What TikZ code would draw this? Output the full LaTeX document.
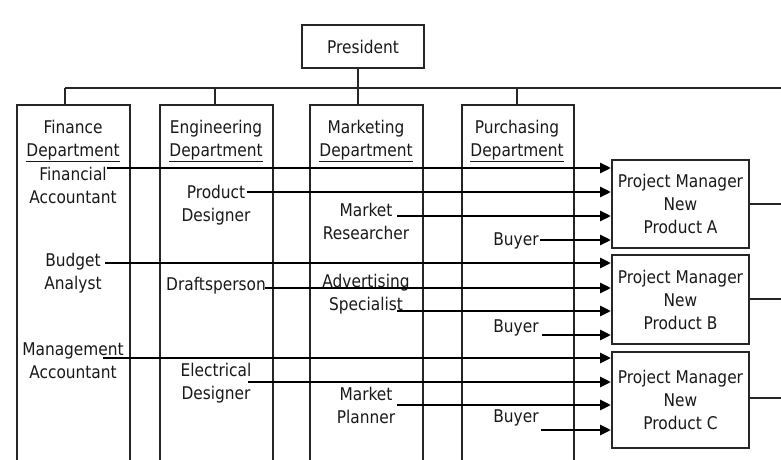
\documentclass[tikz,border=0pt]{standalone}
\usepackage{fontspec}
\setmainfont{DejaVu Sans}[FakeStretch=0.88]
\usetikzlibrary{arrows.meta}
\begin{document}
\begin{tikzpicture}[x=1pt,y=-1pt,
  box/.style={draw=black!85, line width=2pt, inner sep=0pt},
  txt/.style={align=center, font=\fontsize{17.5}{23}\selectfont, inner sep=0pt, text=black!90},
  link/.style={draw=black!85, line width=2pt},
  arr/.style={line width=2.8pt, -{Triangle[length=11pt,width=10pt]}}]
\useasboundingbox[fill=white] (0,0) rectangle (781,460);

% President
\node[box, minimum width=122pt, minimum height=43pt, txt] (pres) at (363,46.5) {President};

% department boxes
\node[box, minimum width=113pt, minimum height=361pt] (fin) at (73.5,285.5) {};
\node[box, minimum width=113pt, minimum height=361pt] (eng) at (216.5,285.5) {};
\node[box, minimum width=113pt, minimum height=361pt] (mkt) at (366.5,285.5) {};
\node[box, minimum width=112pt, minimum height=361pt] (pur) at (518,285.5) {};

% tree
\coordinate (busL) at (65,88);
\coordinate (busR) at (781,88);
\draw[link] (busL) -- (busR);
\draw[link] (busL) -- (busL |- fin.north);
\draw[link] (215,88) -- (215,105);
\draw[link] (358,68) -- (358,105);
\draw[link] (517,88) -- (517,105);

% headers
\node[txt] (fhead) at (73,141) {Finance\\\underline{Department}};
\node[txt] (ehead) at (216,141) {Engineering\\\underline{Department}};
\node[txt] (mhead) at (366,141) {Marketing\\\underline{Department}};
\node[txt] (phead) at (517,141) {Purchasing\\\underline{Department}};

% jobs
\node[txt] (fin1) at (73,185) {Financial\\Accountant};
\node[txt] (fin2) at (73,273) {Budget\\Analyst};
\node[txt] (fin3) at (73,361) {Management\\Accountant};
\node[txt] (eng1) at (216,205) {Product\\Designer};
\node[txt] (eng2) at (216,286) {Draftsperson};
\node[txt] (eng3) at (216,383) {Electrical\\Designer};
\node[txt] (mkt1) at (366,221) {Market\\Researcher};
\node[txt] (mkt2) at (366,294) {Advertising\\Specialist};
\node[txt] (mkt3) at (366,405) {Market\\Planner};
\node[txt] (buy1) at (516,241) {Buyer};
\node[txt] (buy2) at (516,328) {Buyer};
\node[txt] (buy3) at (516,418) {Buyer};

% project managers
\node[box, txt, minimum width=137pt, minimum height=88pt] (pmA) at (680.5,204) {Project Manager\\New\\Product A};
\node[box, txt, minimum width=137pt, minimum height=89pt] (pmB) at (680.5,299.5) {Project Manager\\New\\Product B};
\node[box, txt, minimum width=137pt, minimum height=96pt] (pmC) at (680.5,399.5) {Project Manager\\New\\Product C};

\coordinate (rA) at (781,204);
\coordinate (rB) at (781,299);
\coordinate (rC) at (781,398);
\draw[link] (pmA.east |- rA) -- (rA);
\draw[link] (pmB.east |- rB) -- (rB);
\draw[link] (pmC.east |- rC) -- (rC);

% arrow starts
\coordinate (a1) at (107,168);
\coordinate (a2) at (247,192);
\coordinate (a3) at (397,216);
\coordinate (a4) at (540,240);
\coordinate (b1) at (105,263);
\coordinate (b2) at (265,288);
\coordinate (b3) at (397,311);
\coordinate (b4) at (542,335);
\coordinate (c1) at (103,358);
\coordinate (c2) at (248,382);
\coordinate (c3) at (397,405);
\coordinate (c4) at (541,430);

\foreach \s in {a1,a2,a3,a4}{\draw[arr] (\s) -- (\s -| pmA.west);}
\foreach \s in {b1,b2,b3,b4}{\draw[arr] (\s) -- (\s -| pmB.west);}
\foreach \s in {c1,c2,c3,c4}{\draw[arr] (\s) -- (\s -| pmC.west);}
\end{tikzpicture}
\end{document}
